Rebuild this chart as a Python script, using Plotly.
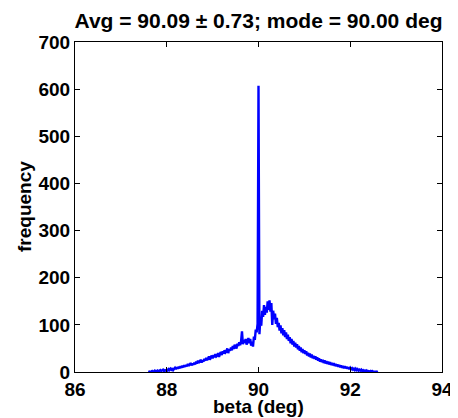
import numpy as np
import plotly.graph_objects as go

# Histogram of beta angles: bin width 0.02 deg starting at 87.60 deg
bin_start = 87.60
bin_width = 0.02
counts = [
    # 87.60 - 87.78
    0, 1, 0, 1, 2, 0, 1, 3, 1, 2,
    # 87.80 - 87.98
    3, 1, 2, 4, 2, 3, 5, 2, 4, 3,
    # 88.00 - 88.18
    5, 3, 6, 4, 7, 5, 8, 4, 7, 9,
    # 88.20 - 88.38
    6, 10, 7, 11, 8, 12, 9, 13, 10, 14,
    # 88.40 - 88.58
    11, 15, 12, 17, 13, 16, 19, 14, 18, 15,
    # 88.60 - 88.78
    20, 16, 22, 18, 24, 19, 23, 26, 20, 25,
    # 88.80 - 88.98
    22, 28, 24, 30, 25, 29, 33, 26, 31, 35,
    # 89.00 - 89.18
    29, 36, 31, 38, 33, 35, 40, 32, 39, 42,
    # 89.20 - 89.38
    36, 44, 39, 46, 41, 43, 50, 40, 48, 45,
    # 89.40 - 89.58
    52, 46, 55, 49, 58, 53, 50, 60, 55, 63,
    # 89.60 - 89.78
    57, 65, 86, 59, 68, 62, 70, 58, 67, 72,
    # 89.80 - 89.98
    61, 70, 56, 64, 54, 75, 68, 90, 84, 102,
    # 90.00
    607,
    # 90.02 - 90.20
    80, 112, 98, 130, 117, 142, 121, 138, 126, 150,
    # 90.22 - 90.40
    132, 152, 128, 146, 100, 130, 112, 124, 102, 115,
    # 90.42 - 90.60
    95, 104, 88, 99, 82, 93, 78, 89, 74, 84,
    # 90.62 - 90.80
    70, 79, 66, 74, 61, 70, 58, 66, 54, 62,
    # 90.82 - 91.00
    52, 59, 48, 55, 45, 52, 42, 49, 40, 46,
    # 91.02 - 91.20
    38, 44, 35, 41, 33, 39, 31, 37, 29, 34,
    # 91.22 - 91.40
    28, 33, 26, 31, 24, 29, 22, 27, 21, 26,
    # 91.42 - 91.60
    19, 25, 18, 23, 17, 22, 16, 21, 15, 19,
    # 91.62 - 91.80
    14, 19, 13, 17, 12, 16, 11, 15, 10, 14,
    # 91.82 - 92.00
    9, 13, 8, 12, 8, 11, 7, 10, 6, 9,
    # 92.02 - 92.20
    6, 8, 5, 7, 4, 7, 4, 6, 3, 5,
    # 92.22 - 92.40
    3, 5, 2, 4, 2, 3, 1, 3, 1, 2,
    # 92.42 - 92.60
    1, 2, 0, 2, 1, 0, 1, 0, 1, 0,
]
beta = np.round(bin_start + bin_width * np.arange(len(counts)), 2)

x_ticks = [86, 88, 90, 92, 94]
y_ticks = [0, 100, 200, 300, 400, 500, 600, 700]

title_text = "Avg = 90.09 \u00b1 0.73; mode = 90.00 deg"
x_label = "beta (deg)"
y_label = "frequency"

FONT = "Liberation Sans, Arial, Helvetica, sans-serif"
# page body has an 8px default margin, so the figure is sized to fit the window
OFF = 8
W, H = 458 - OFF, 418 - OFF
L, T = 75 - OFF, 42 - OFF
R = W - (442 - OFF)
B = H - (372 - OFF)
PW, PH = W - L - R, H - T - B

fig = go.Figure()
fig.add_trace(go.Scatter(
    x=beta, y=counts, mode="lines",
    line=dict(color="#0000ff", width=2.4),
    showlegend=False,
))

axis_common = dict(
    showgrid=False, zeroline=False, automargin=False,
    showline=True, linecolor="black", linewidth=1,
    mirror="ticks", ticks="inside", ticklen=5, tickcolor="black", tickwidth=1,
    tickfont=dict(family=FONT, size=19, color="black", weight="bold"),
)

fig.update_layout(
    width=W, height=H,
    margin=dict(l=L, r=R, t=T, b=B, autoexpand=False),
    paper_bgcolor="white", plot_bgcolor="white",
    title=dict(
        text=title_text,
        font=dict(family=FONT, size=21, color="black", weight="bold"),
        x=0.5, xref="paper", xanchor="center",
        y=1 - (21 - OFF) / H, yref="container", yanchor="middle",
    ),
    xaxis=dict(range=[86, 94], tickvals=x_ticks,
               ticktext=[str(v) for v in x_ticks], **axis_common),
    yaxis=dict(range=[0, 700], tickvals=y_ticks,
               ticktext=[str(v) for v in y_ticks], **axis_common),
    annotations=[
        dict(text=x_label, xref="paper", yref="paper",
             x=0.5, y=-(406 - 372) / PH, xanchor="center", yanchor="middle",
             showarrow=False,
             font=dict(family=FONT, size=19, color="black", weight="bold")),
        dict(text=y_label, xref="paper", yref="paper",
             x=-(75 - 24) / PW, y=0.5, xanchor="center", yanchor="middle",
             textangle=-90, showarrow=False,
             font=dict(family=FONT, size=19, color="black", weight="bold")),
    ],
)

fig.write_html("out.html")
